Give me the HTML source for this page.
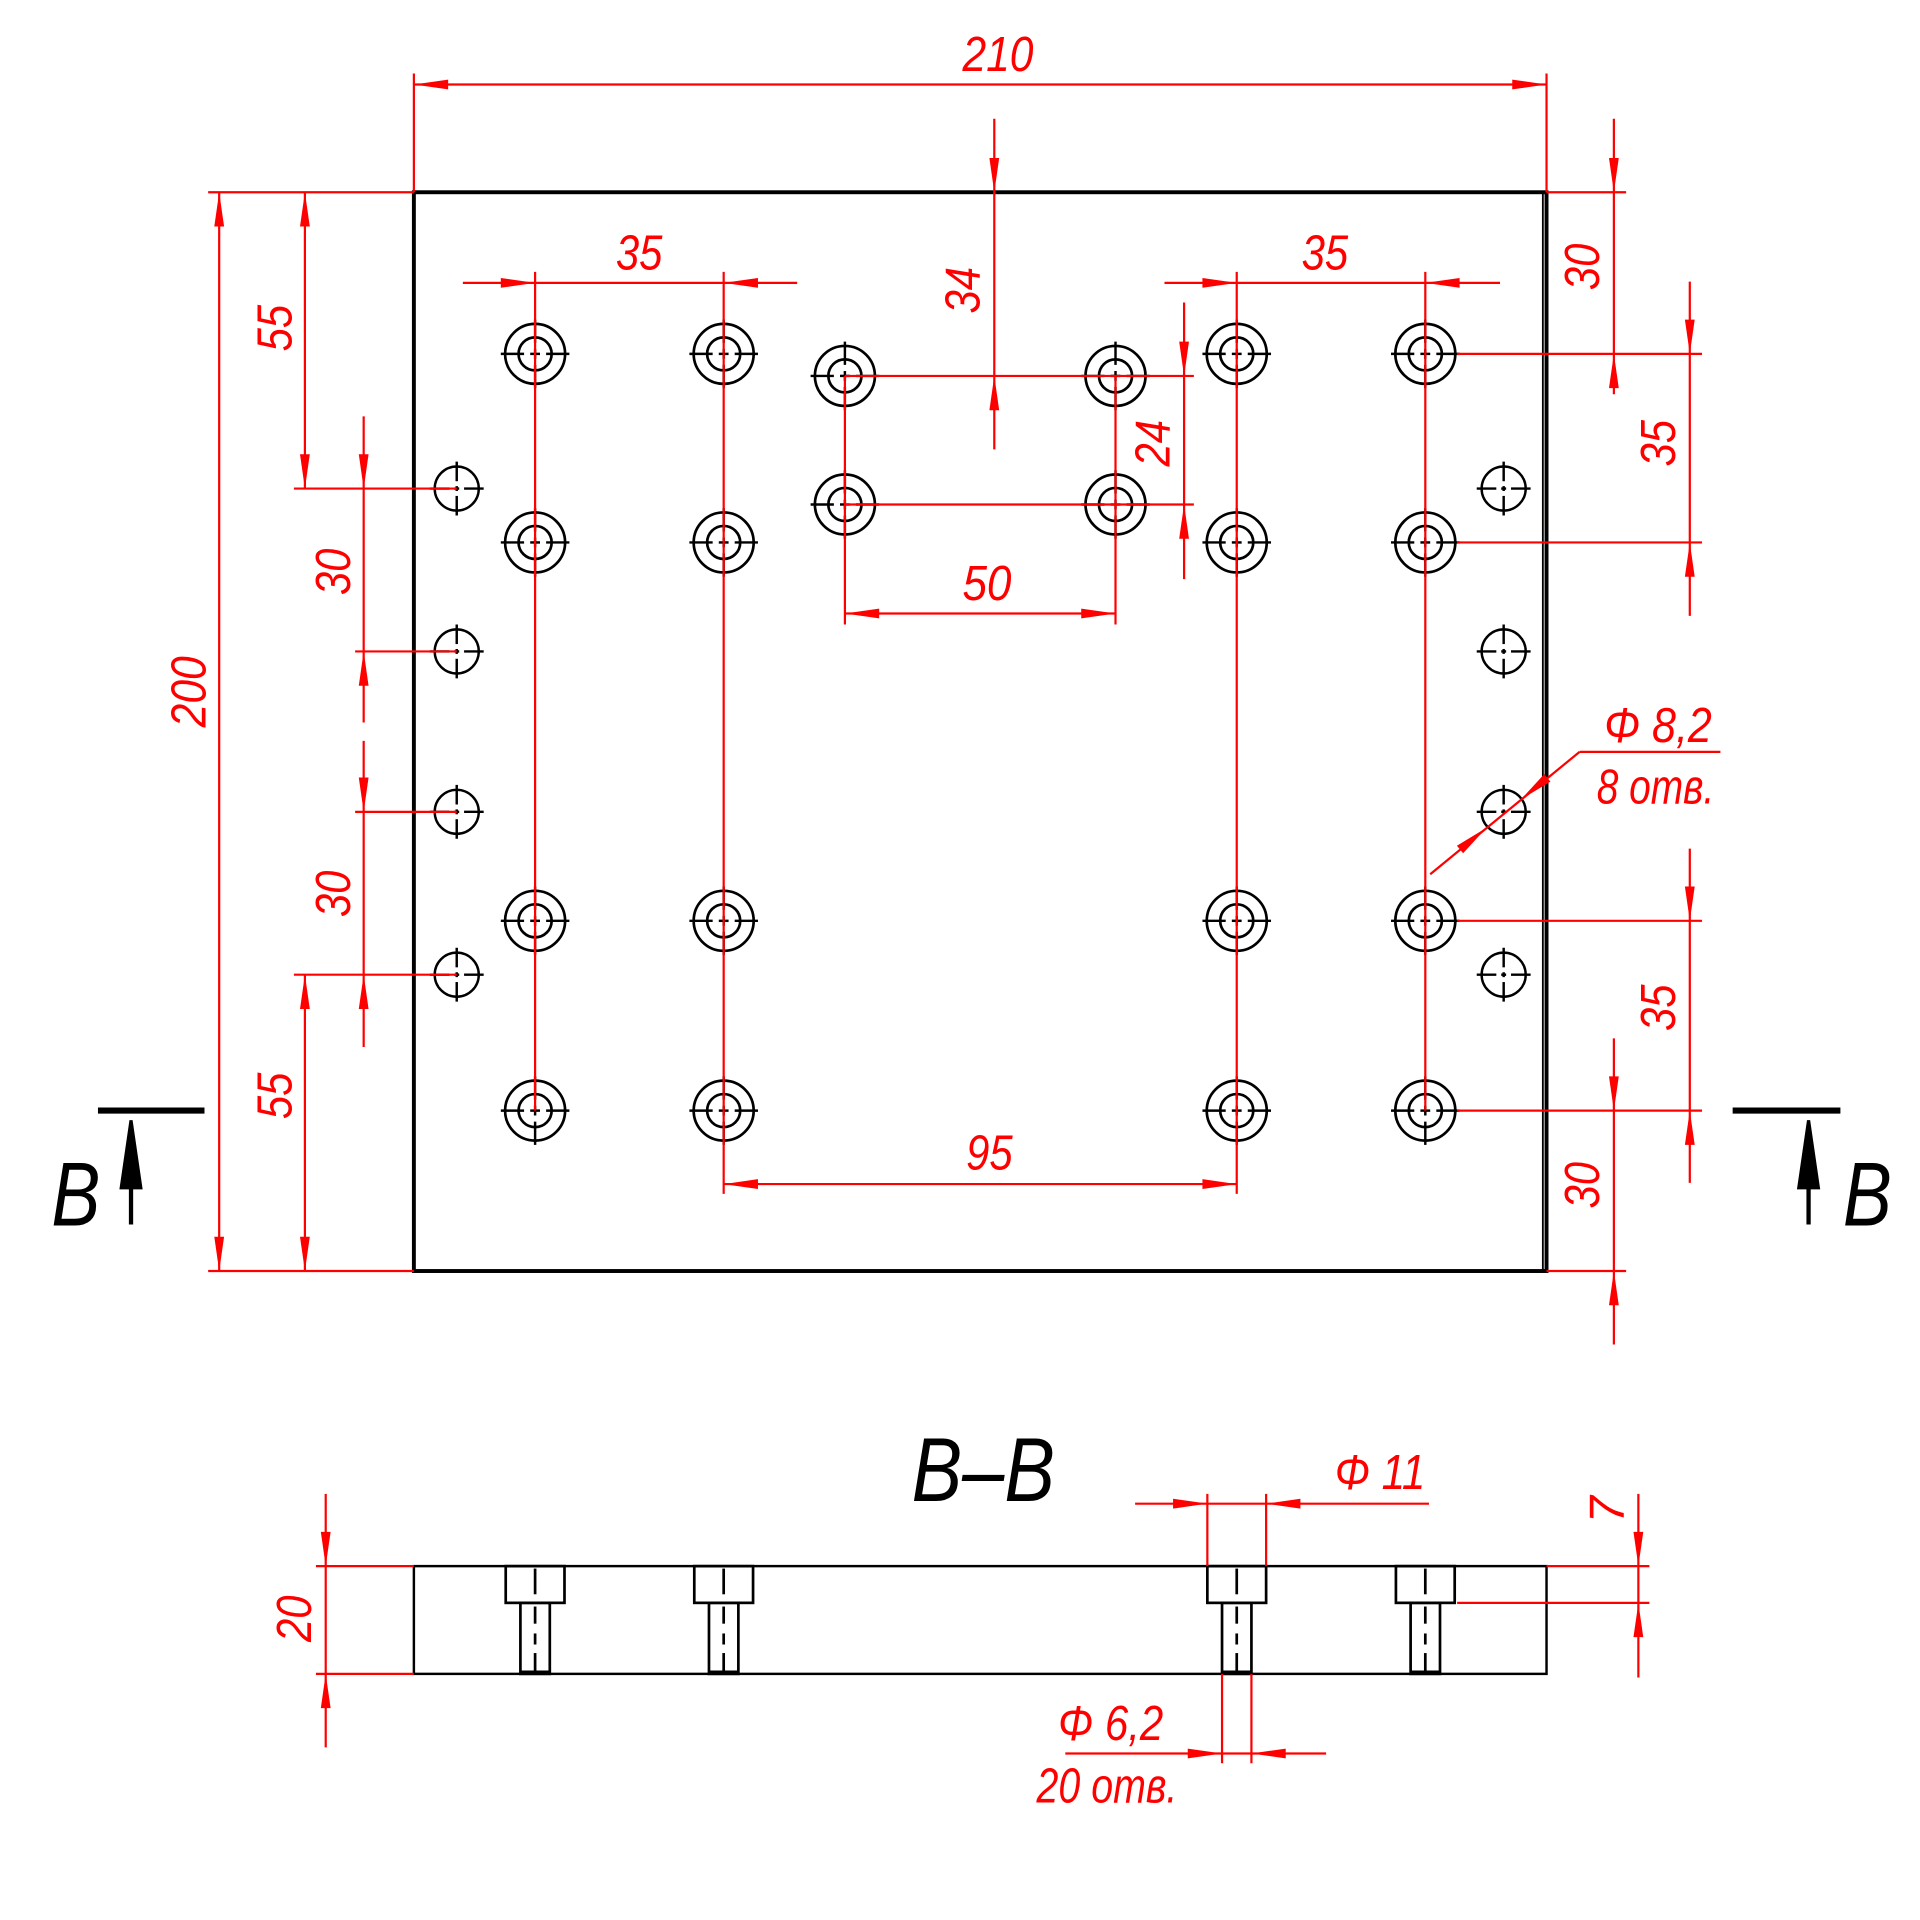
<!DOCTYPE html>
<html><head><meta charset="utf-8"><style>
html,body{margin:0;padding:0;background:#fff}
svg{display:block}
text{font-family:"Liberation Sans",sans-serif;font-style:italic;fill:#f00}
</style></head><body>
<svg id="s" width="1920" height="1920" viewBox="0 0 1568 1568" xmlns="http://www.w3.org/2000/svg">
<g id="blk" stroke="#000" fill="none" stroke-width="2.6">
<rect x="338" y="157" width="925" height="881" stroke-width="3.2"/>
<line x1="1260" y1="157" x2="1260" y2="1038" stroke-width="1.5"/>
<rect x="338" y="1279" width="925" height="88" stroke-width="2"/>
<line x1="80" y1="907" x2="167" y2="907" stroke-width="5"/>
<line x1="1415" y1="907" x2="1503" y2="907" stroke-width="5"/>
<line x1="107" y1="1000" x2="107" y2="950" stroke-width="3.5"/>
<line x1="1477" y1="1000" x2="1477" y2="950" stroke-width="3.5"/>
<polygon points="107,915 99,970 115,970" fill="#000"/>
<polygon points="1477,915 1469,970 1485,970" fill="#000"/>
</g>
<g id="red" stroke="#f00" stroke-width="1.8" fill="none"></g>
<g id="arr" fill="#f00" stroke="none"></g>
<g font-size="40">
<text x="815" y="58" text-anchor="middle" textLength="58" lengthAdjust="spacingAndGlyphs">210</text>
<text transform="translate(168,565) rotate(-90)" text-anchor="middle" textLength="58" lengthAdjust="spacingAndGlyphs">200</text>
<text transform="translate(238,268) rotate(-90)" text-anchor="middle" textLength="38" lengthAdjust="spacingAndGlyphs">55</text>
<text transform="translate(238,895) rotate(-90)" text-anchor="middle" textLength="38" lengthAdjust="spacingAndGlyphs">55</text>
<text transform="translate(286,467) rotate(-90)" text-anchor="middle" textLength="38" lengthAdjust="spacingAndGlyphs">30</text>
<text transform="translate(286,730) rotate(-90)" text-anchor="middle" textLength="38" lengthAdjust="spacingAndGlyphs">30</text>
<text x="522" y="220" text-anchor="middle" textLength="38" lengthAdjust="spacingAndGlyphs">35</text>
<text x="1082" y="220" text-anchor="middle" textLength="38" lengthAdjust="spacingAndGlyphs">35</text>
<text transform="translate(800,237) rotate(-90)" text-anchor="middle" textLength="38" lengthAdjust="spacingAndGlyphs">34</text>
<text transform="translate(955,362) rotate(-90)" text-anchor="middle" textLength="38" lengthAdjust="spacingAndGlyphs">24</text>
<text x="806" y="490" text-anchor="middle" textLength="40" lengthAdjust="spacingAndGlyphs">50</text>
<text x="808" y="955" text-anchor="middle" textLength="38" lengthAdjust="spacingAndGlyphs">95</text>
<text transform="translate(1306,218) rotate(-90)" text-anchor="middle" textLength="38" lengthAdjust="spacingAndGlyphs">30</text>
<text transform="translate(1368,362) rotate(-90)" text-anchor="middle" textLength="38" lengthAdjust="spacingAndGlyphs">35</text>
<text transform="translate(1368,823) rotate(-90)" text-anchor="middle" textLength="38" lengthAdjust="spacingAndGlyphs">35</text>
<text transform="translate(1306,968) rotate(-90)" text-anchor="middle" textLength="38" lengthAdjust="spacingAndGlyphs">30</text>
<text x="1354" y="606" text-anchor="middle" textLength="88" lengthAdjust="spacingAndGlyphs">Φ 8,2</text>
<text x="1352" y="656" text-anchor="middle" textLength="96" lengthAdjust="spacingAndGlyphs">8 отв.</text>
<text x="1127" y="1216" text-anchor="middle" textLength="74" lengthAdjust="spacingAndGlyphs">Φ 11</text>
<text transform="translate(1326,1233) rotate(-90)" text-anchor="middle">7</text>
<text transform="translate(254,1322) rotate(-90)" text-anchor="middle" textLength="38" lengthAdjust="spacingAndGlyphs">20</text>
<text x="907" y="1421" text-anchor="middle" textLength="86" lengthAdjust="spacingAndGlyphs">Φ 6,2</text>
<text x="904" y="1472" text-anchor="middle" textLength="115" lengthAdjust="spacingAndGlyphs">20 отв.</text>
</g>
<text x="803" y="1226" text-anchor="middle" font-size="74" style="fill:#000" textLength="117" lengthAdjust="spacingAndGlyphs">B–B</text>
<text x="62" y="1001" text-anchor="middle" font-size="74" style="fill:#000" textLength="40" lengthAdjust="spacingAndGlyphs">B</text>
<text x="1525" y="1001" text-anchor="middle" font-size="74" style="fill:#000" textLength="40" lengthAdjust="spacingAndGlyphs">B</text>
</svg>
<script>
var NS="http://www.w3.org/2000/svg";
function el(p,t,a){var e=document.createElementNS(NS,t);for(var k in a)e.setAttribute(k,a[k]);document.getElementById(p).appendChild(e);return e;}
function L(x1,y1,x2,y2){el("red","line",{x1:x1,y1:y1,x2:x2,y2:y2});}
function B(x1,y1,x2,y2,w){el("blk","line",{x1:x1,y1:y1,x2:x2,y2:y2,"stroke-width":w||2});}
function A(x,y,dx,dy){var l=Math.hypot(dx,dy);dx/=l;dy/=l;var bx=x-dx*28,by=y-dy*28,px=-dy*4,py=dx*4;
el("arr","polygon",{points:x+","+y+" "+(bx+px)+","+(by+py)+" "+(bx-px)+","+(by-py)});}
var D={u:[0,-1],d:[0,1],l:[-1,0],r:[1,0]};
function a(x,y,d){A(x,y,D[d][0],D[d][1]);}
L(338,60,338,157);L(1263,60,1263,157);L(338,69,1263,69);a(338,69,'l');a(1263,69,'r');
L(170,157,338,157);L(170,1038,338,1038);L(179,157,179,1038);a(179,157,'u');a(179,1038,'d');
L(249,157,249,399);L(240,399,373,399);a(249,157,'u');a(249,399,'d');
L(249,796,249,1038);L(240,796,373,796);a(249,796,'u');a(249,1038,'d');
L(297,340,297,590);L(290,532,373,532);a(297,399,'d');a(297,532,'u');
L(297,605,297,855);L(290,663,373,663);a(297,663,'d');a(297,796,'u');
L(378,231,651,231);a(437,231,'r');a(591,231,'l');
L(951,231,1225,231);a(1010,231,'r');a(1164,231,'l');
[437,591,1010,1164].forEach(function(x){L(x,222,x,907);});
L(591,907,591,975);L(1010,907,1010,975);
L(812,97,812,367);a(812,157,'d');a(812,307,'u');
L(690,307,975,307);L(690,412,975,412);
L(967,247,967,473);a(967,307,'d');a(967,412,'u');
L(690,307,690,510);L(911,307,911,510);L(690,501,911,501);a(690,501,'l');a(911,501,'r');
L(591,967,1010,967);a(591,967,'l');a(1010,967,'r');
L(1263,157,1328,157);L(1190,289,1390,289);L(1318,97,1318,322);a(1318,157,'d');a(1318,289,'u');
L(1190,443,1390,443);L(1380,230,1380,503);a(1380,289,'d');a(1380,443,'u');
L(1190,752,1390,752);L(1190,907,1390,907);L(1380,693,1380,966);a(1380,752,'d');a(1380,907,'u');
L(1263,1038,1328,1038);L(1318,848,1318,1098);a(1318,907,'d');a(1318,1038,'u');
L(1168,714,1290,614);L(1290,614,1405,614);A(1214,676,122,-100);A(1242,653,-122,100);
L(986,1220,986,1279);L(1034,1220,1034,1279);L(927,1228,1167,1228);a(986,1228,'r');a(1034,1228,'l');
L(1263,1279,1347,1279);L(1190,1309,1347,1309);L(1338,1220,1338,1370);a(1338,1279,'d');a(1338,1309,'u');
L(258,1279,338,1279);L(258,1367,338,1367);L(266,1220,266,1427);a(266,1279,'d');a(266,1367,'u');
L(998,1367,998,1440);L(1022,1367,1022,1440);L(870,1432,1083,1432);a(998,1432,'r');a(1022,1432,'l');
function hole(x,y){el("blk","circle",{cx:x,cy:y,r:24.5,"stroke-width":2.2});el("blk","circle",{cx:x,cy:y,r:13.5,"stroke-width":2.2});
B(x-28,y,x-9,y);B(x+9,y,x+28,y);B(x-4,y,x+4,y);B(x,y-28,x,y-9);B(x,y+9,x,y+28);B(x,y-4,x,y+4);}
[437,591,1010,1164].forEach(function(x){[289,443,752,907].forEach(function(y){hole(x,y);});});
[690,911].forEach(function(x){[307,412].forEach(function(y){hole(x,y);});});
function sh(x,y){el("blk","circle",{cx:x,cy:y,r:18,"stroke-width":2});B(x-22,y,x-6,y);B(x+6,y,x+22,y);B(x-2,y,x+2,y);B(x,y-22,x,y-6);B(x,y+6,x,y+22);B(x,y-2,x,y+2);}
[373,1228].forEach(function(x){[399,532,663,796].forEach(function(y){sh(x,y);});});
[437,591,1010,1164].forEach(function(x){
el("blk","rect",{x:x-24,y:1279,width:48,height:30,"stroke-width":2.2});
el("blk","rect",{x:x-12,y:1309,width:24,height:58,"stroke-width":2.2});
B(x,1281,x,1302,2.2);B(x,1312,x,1326,2.2);B(x,1334,x,1343,2.2);B(x,1350,x,1366,2.2);
B(x-12,1366,x+12,1366,3.5);});
</script>
</body></html>
